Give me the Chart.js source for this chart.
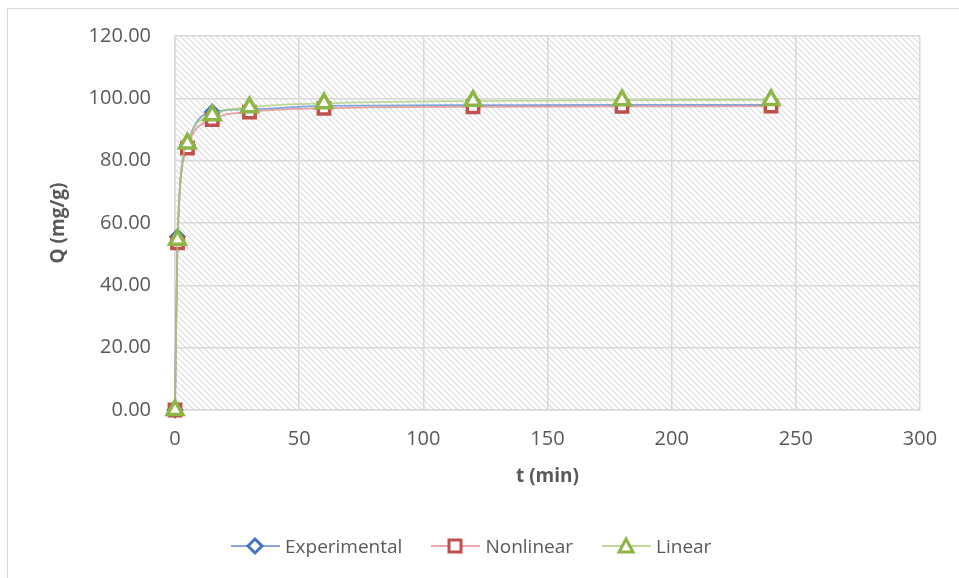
<!DOCTYPE html>
<html>
<head>
<meta charset="utf-8">
<script src="https://cdn.jsdelivr.net/npm/chart.js@4.4.1/dist/chart.umd.min.js"></script>
<style>
  html, body { margin: 0; padding: 0; background: #fff; }
  #wrap { position: relative; width: 959px; height: 578px; overflow: hidden; }
  #frame { position: absolute; left: 7px; top: 8px; width: 1000px; height: 620px;
           border: 1.5px solid #d9d9d9; box-sizing: border-box; }
  #c { position: absolute; left: 0; top: 0; }
  #legend { position: absolute; left: 231px; top: 534px; height: 24px; display: flex;
            align-items: center; font-family: "Open Sans", sans-serif; font-size: 19px;
            color: #595959; white-space: nowrap; }
  #legend .item { display: flex; align-items: center; margin-right: 29px; }
  #legend canvas { display: block; margin-right: 5px; }
</style>
</head>
<body>
<div id="wrap">
  <div id="frame"></div>
  <canvas id="c" width="959" height="578"></canvas>
  <div id="legend"></div>
</div>
<script>
// Contact time (min) and adsorbed amount Q (mg/g)
const times = [0, 1, 5, 15, 30, 60, 120, 180, 240];
const experimental = [0, 55.6, 85.0, 95.6, 96.5, 97.6, 97.8, 97.9, 97.9];
const nonlinear = [0, 53.6, 84.0, 93.2, 95.6, 96.8, 97.3, 97.4, 97.5];
const linear = [0, 54.6, 85.5, 94.6, 97.1, 98.4, 99.2, 99.4, 99.5];

const seriesNames = ['Experimental', 'Nonlinear', 'Linear'];
const xTicks = [0, 50, 100, 150, 200, 250, 300];
const yTicks = [0, 20, 40, 60, 80, 100, 120];

const FONT = '"Open Sans", sans-serif';
const TEXT = '#595959';

function toPoints(vals) { return times.map((t, i) => ({ x: t, y: vals[i] })); }

// Diagonal hatch fill for the plot area
function hatchPattern(ctx) {
  const p = document.createElement('canvas');
  p.width = 6; p.height = 6;
  const g = p.getContext('2d');
  g.fillStyle = '#ffffff';
  g.fillRect(0, 0, 6, 6);
  g.strokeStyle = '#dcdcdc';
  g.lineWidth = 1.2;
  g.beginPath();
  g.moveTo(-1, -1); g.lineTo(7, 7);
  g.moveTo(-4, 2); g.lineTo(2, 8);
  g.moveTo(2, -4); g.lineTo(8, 2);
  g.stroke();
  return ctx.createPattern(p, 'repeat');
}

// Legend swatch: line segment with the series marker in the middle
function legendSwatch(lineColor, markerColor, style) {
  const c = document.createElement('canvas');
  c.width = 49; c.height = 20;
  const g = c.getContext('2d');
  g.strokeStyle = lineColor; g.lineWidth = 2;
  g.beginPath(); g.moveTo(0, 10); g.lineTo(49, 10); g.stroke();
  g.fillStyle = '#fff'; g.strokeStyle = markerColor;
  g.lineWidth = 3;
  g.beginPath();
  if (style === 'rectRot') {
    g.moveTo(24, 3); g.lineTo(31, 10); g.lineTo(24, 17); g.lineTo(17, 10); g.closePath();
  } else if (style === 'rect') {
    g.rect(18, 4, 12, 12);
  } else {
    g.moveTo(24, 3); g.lineTo(31, 16); g.lineTo(17, 16); g.closePath();
  }
  g.fill(); g.stroke();
  return c;
}

const styles = [
  { line: 'rgba(91,140,214,0.75)', marker: '#4472c4', shape: 'rectRot', radius: 7, bw: 2.5 },
  { line: 'rgba(220,120,120,0.65)', marker: '#c0504d', shape: 'rect', radius: 8, bw: 3.5 },
  { line: 'rgba(170,205,120,0.75)', marker: '#8db646', shape: 'triangle', radius: 9, bw: 3.5 }
];

// Legend row
const legendEl = document.getElementById('legend');
seriesNames.forEach((name, i) => {
  const item = document.createElement('div');
  item.className = 'item';
  item.appendChild(legendSwatch(styles[i].line, styles[i].marker, styles[i].shape));
  const label = document.createElement('span');
  label.textContent = name;
  item.appendChild(label);
  legendEl.appendChild(item);
});

const plotBg = {
  id: 'plotBg',
  beforeDraw(chart) {
    const { ctx, chartArea: a } = chart;
    ctx.save();
    ctx.fillStyle = hatchPattern(ctx);
    ctx.fillRect(a.left, a.top, a.right - a.left, a.bottom - a.top);
    ctx.restore();
  }
};

const seriesValues = [experimental, nonlinear, linear];
const datasets = seriesValues.map((vals, i) => ({
  label: seriesNames[i],
  data: toPoints(vals),
  borderColor: styles[i].line,
  borderWidth: 1.8,
  cubicInterpolationMode: 'monotone',
  pointStyle: styles[i].shape,
  pointRadius: styles[i].radius,
  pointHoverRadius: styles[i].radius,
  pointBackgroundColor: '#ffffff',
  pointBorderColor: styles[i].marker,
  pointBorderWidth: styles[i].bw,
  order: 3 - i,
  clip: false
}));

new Chart(document.getElementById('c'), {
  type: 'line',
  data: { datasets },
  options: {
    responsive: false,
    animation: false,
    devicePixelRatio: 1,
    layout: { padding: { left: 20, right: 39, top: 36, bottom: 60 } },
    plugins: {
      tooltip: { enabled: false },
      legend: { display: false }
    },
    scales: {
      x: {
        type: 'linear',
        min: 0, max: 300,
        afterBuildTicks(s) { s.ticks = xTicks.map(v => ({ value: v })); },
        grid: { color: '#d9d9d9', lineWidth: 1.5, drawTicks: false },
        border: { color: '#d9d9d9', width: 1.5 },
        ticks: { color: TEXT, font: { family: FONT, size: 20 }, padding: 17, maxRotation: 0 },
        title: { display: true, text: 't (min)', color: TEXT,
                 font: { family: FONT, size: 19, weight: 'bold' }, padding: { top: 4, bottom: 30 } },
        afterFit(s) { s.height = 108; }
      },
      y: {
        type: 'linear',
        min: 0, max: 120,
        afterBuildTicks(s) { s.ticks = yTicks.map(v => ({ value: v })); },
        grid: { color: '#d9d9d9', lineWidth: 1.5, drawTicks: false },
        border: { color: '#d9d9d9', width: 1.5 },
        ticks: { color: TEXT, font: { family: FONT, size: 20 }, padding: 24,
                 callback: v => Number(v).toFixed(2) },
        title: { display: true, text: 'Q (mg/g)', color: TEXT,
                 font: { family: FONT, size: 19, weight: 'bold' }, padding: { top: 27, bottom: 4 } },
        afterFit(s) { s.width = 155; }
      }
    }
  },
  plugins: [plotBg]
});
</script>
</body>
</html>
